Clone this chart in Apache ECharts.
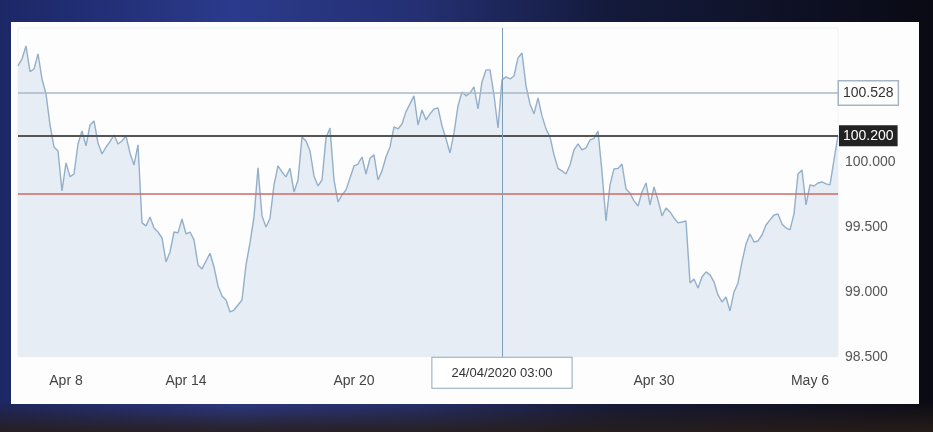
<!DOCTYPE html>
<html>
<head>
<meta charset="utf-8">
<script src="https://cdn.jsdelivr.net/npm/echarts@6/dist/echarts.min.js"></script>
<style>
  html, body { margin: 0; padding: 0; width: 933px; height: 432px; overflow: hidden; }
  body {
    background:
      linear-gradient(180deg, rgba(0,0,0,0) 0px, rgba(0,0,0,0) 400px, rgba(40,30,25,0.9) 432px),
      linear-gradient(90deg, #1c2766 0%, #2b3a8c 25%, #243072 45%, #141a3c 65%, #0a0a14 100%);
  }
  #panel { position: absolute; left: 11px; top: 22px; width: 908px; height: 382px; background: #fdfdfd; }
  #chart { position: absolute; left: 0; top: 0; width: 933px; height: 432px; }
</style>
</head>
<body>
<div id="panel"></div>
<div id="chart"></div>
<script>
// Dollar index style series, roughly 2.5 h per point
const values = [
  100.736, 100.790, 100.890, 100.692, 100.713, 100.829, 100.636, 100.521, 100.282, 100.113,
  100.082, 99.775, 99.990, 99.885, 99.905, 100.136, 100.236, 100.121, 100.282, 100.313,
  100.144, 100.059, 100.113, 100.154, 100.205, 100.136, 100.159, 100.198, 100.065, 99.975,
  100.129, 99.529, 99.506, 99.575, 99.490, 99.459, 99.413, 99.229, 99.306, 99.459,
  99.452, 99.559, 99.444, 99.459, 99.398, 99.206, 99.175, 99.236, 99.296, 99.190,
  99.044, 98.967, 98.936, 98.844, 98.859, 98.898, 98.936, 99.206, 99.375, 99.575,
  99.952, 99.583, 99.498, 99.565, 99.821, 99.967, 99.921, 99.883, 99.949, 99.767,
  99.859, 100.190, 100.159, 100.082, 99.890, 99.813, 99.859, 100.183, 100.259, 99.859,
  99.690, 99.744, 99.783, 99.875, 99.967, 99.982, 100.036, 99.905, 100.026, 100.052,
  99.859, 99.929, 100.036, 100.113, 100.267, 100.252, 100.290, 100.385, 100.444, 100.506,
  100.282, 100.398, 100.321, 100.367, 100.406, 100.413, 100.275, 100.175, 100.067, 100.221,
  100.429, 100.536, 100.506, 100.529, 100.575, 100.406, 100.613, 100.706, 100.706, 100.513,
  100.259, 100.629, 100.652, 100.636, 100.659, 100.798, 100.836, 100.583, 100.444, 100.367,
  100.490, 100.352, 100.252, 100.190, 100.052, 99.948, 99.929, 99.905, 99.975, 100.090,
  100.136, 100.090, 100.106, 100.167, 100.179, 100.236, 99.921, 99.544, 99.821, 99.944,
  99.948, 99.982, 99.790, 99.759, 99.698, 99.659, 99.767, 99.836, 99.667, 99.805,
  99.705, 99.583, 99.644, 99.613, 99.567, 99.529, 99.536, 99.544, 99.067, 99.098,
  99.029, 99.113, 99.152, 99.129, 99.075, 98.975, 98.921, 98.959, 98.852, 98.998,
  99.067, 99.229, 99.367, 99.444, 99.382, 99.390, 99.436, 99.513, 99.552, 99.590,
  99.598, 99.521, 99.490, 99.475, 99.598, 99.905, 99.936, 99.667, 99.821, 99.813,
  99.836, 99.844, 99.829, 99.821, 100.013, 100.200
];
const xTickLabels = ['Apr 8', 'Apr 14', 'Apr 20', 'Apr 30', 'May 6'];
const xTickIndex = [12, 42, 84, 159, 198];
const crossIndex = 121;
const crossLabel = '24/04/2020 03:00';
const resistanceLevel = 100.528;
const lastPrice = 100.200;
const supportLevel = 99.75;
const yMin = 98.5, yMax = 101.028, yStep = 0.5;

const categories = values.map((_, i) => {
  const k = xTickIndex.indexOf(i);
  if (k >= 0) return xTickLabels[k];
  if (i === crossIndex) return crossLabel;
  return 'p' + i;
});

const font = 'Liberation Sans, Arial, sans-serif';
const chart = echarts.init(document.getElementById('chart'), null, { renderer: 'canvas' });
chart.setOption({
  backgroundColor: 'transparent',
  animation: false,
  grid: {
    left: 18, top: 28, width: 820, height: 328.7,
    containLabel: false, outerBoundsMode: 'none',
    show: true, borderColor: '#eef1f4', borderWidth: 1, backgroundColor: 'transparent'
  },
  xAxis: {
    type: 'category',
    data: categories,
    boundaryGap: false,
    axisLine: { show: false },
    axisTick: { show: false },
    splitLine: { show: false },
    axisLabel: {
      interval: (i) => xTickIndex.indexOf(i) >= 0,
      margin: 17,
      fontSize: 14,
      color: '#444',
      fontFamily: font
    }
  },
  yAxis: {
    type: 'value',
    position: 'right',
    min: yMin,
    max: yMax,
    interval: yStep,
    axisLine: { show: false },
    axisTick: { show: false },
    splitLine: { show: false },
    axisLabel: {
      margin: 7,
      fontSize: 14,
      color: '#555',
      fontFamily: font,
      formatter: (v) => (v > 100.01 ? '' : v.toFixed(3))
    }
  },
  series: [{
    type: 'line',
    data: values,
    symbol: 'none',
    smooth: false,
    lineStyle: { color: '#93afca', width: 1.4 },
    areaStyle: { color: '#e6edf5', opacity: 1 },
    markLine: {
      silent: true,
      symbol: ['none', 'none'],
      animation: false,
      precision: 3,
      data: [
        {
          yAxis: resistanceLevel,
          lineStyle: { color: '#a7b8c8', width: 1.5, type: 'solid' },
          label: {
            position: 'end', distance: 1,
            formatter: resistanceLevel.toFixed(3),
            backgroundColor: '#ffffff', borderColor: '#a3b5c6', borderWidth: 1.5,
            color: '#333', fontSize: 14, fontFamily: font, padding: [5, 4, 4, 4]
          }
        },
        {
          yAxis: lastPrice,
          lineStyle: { color: '#555555', width: 2, type: 'solid' },
          label: {
            position: 'end', distance: 1,
            formatter: lastPrice.toFixed(3),
            backgroundColor: '#222222', color: '#ffffff',
            fontSize: 14, fontFamily: font, padding: [4, 4, 3, 4]
          }
        },
        {
          yAxis: supportLevel,
          lineStyle: { color: '#cc6a64', width: 1.5, type: 'solid' },
          label: { show: false }
        },
        {
          xAxis: crossIndex,
          lineStyle: { color: '#7e9db9', width: 1, type: 'solid' },
          label: {
            position: 'start', distance: 1,
            formatter: crossLabel,
            backgroundColor: '#ffffff', borderColor: '#8ea7bd', borderWidth: 1,
            color: '#333', fontSize: 13, fontFamily: font, padding: [9, 19, 8, 19]
          }
        }
      ]
    }
  }]
});
</script>
</body>
</html>
